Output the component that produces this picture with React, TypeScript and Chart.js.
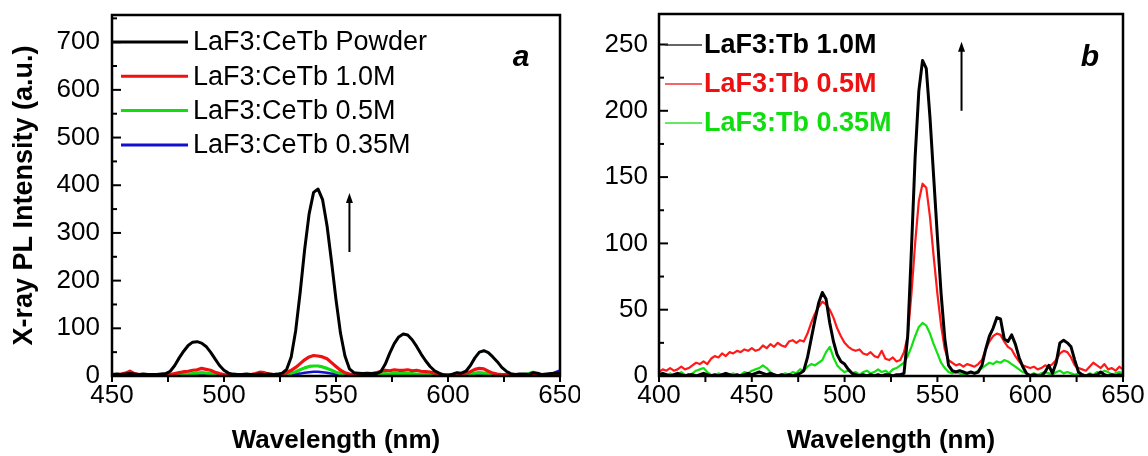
import React, { useEffect, useRef } from "react";
import { Chart, registerables } from "chart.js";

Chart.register(...registerables);

// ---------------- Panel a data ----------------
const waveA = [
  450, 452, 454, 456, 458, 460, 462, 464, 466, 468,
  470, 472, 474, 476, 478, 480, 482, 484, 486, 488,
  490, 492, 494, 496, 498, 500, 502, 504, 506, 508,
  510, 512, 514, 516, 518, 520, 522, 524, 526, 528,
  530, 532, 534, 536, 538, 540, 542, 544, 546, 548,
  550, 552, 554, 556, 558, 560, 562, 564, 566, 568,
  570, 572, 574, 576, 578, 580, 582, 584, 586, 588,
  590, 592, 594, 596, 598, 600, 602, 604, 606, 608,
  610, 612, 614, 616, 618, 620, 622, 624, 626, 628,
  630, 632, 634, 636, 638, 640, 642, 644, 646, 648, 650,
];
const powderA = [
  3, 4, 3, 4, 5, 4, 3, 4, 3, 3,
  3, 4, 5, 10, 22, 38, 52, 64, 71, 72,
  69, 62, 50, 36, 22, 12, 6, 4, 3, 3,
  4, 3, 3, 4, 3, 4, 3, 4, 6, 14,
  40, 95, 175, 265, 340, 385, 392, 370, 315, 240,
  160, 90, 42, 15, 7, 6, 5, 6, 5, 5,
  9, 25, 48, 68, 82, 88, 86, 76, 62, 46,
  32, 20, 11, 6, 2, 0, 4, 7, 6, 10,
  22, 38, 50, 53, 49, 40, 30, 18, 10, 5,
  3, 4, 4, 3, 7, 6, 3, 4, 5, 6, 6,
];
const ceTb10A = [
  2, 3, 4, 6, 10, 5, 3, 2, 2, 2,
  2, 2, 3, 3, 5, 7, 9, 10, 12, 13,
  16, 14, 12, 8, 5, 3, 2, 2, 2, 2,
  3, 3, 5, 8, 7, 4, 3, 3, 4, 7,
  12, 18, 26, 34, 40, 43, 42, 40, 36, 28,
  20, 12, 7, 4, 3, 3, 4, 3, 5, 7,
  10, 12, 11, 13, 12, 12, 13, 11, 12, 10,
  9, 8, 6, 4, 3, 3, 3, 4, 5, 6,
  9, 14, 16, 15, 10, 6, 4, 3, 3, 2,
  2, 2, 2, 2, 2, 2, 2, 2, 2, 2, 2,
];
const ceTb05A = [
  2, 2, 3, 2, 3, 2, 2, 3, 2, 2,
  2, 2, 2, 2, 2, 3, 3, 4, 5, 6,
  7, 6, 5, 3, 2, 2, 2, 2, 1, 1,
  2, 2, 2, 2, 2, 1, 2, 1, 2, 4,
  6, 9, 13, 17, 20, 21, 21, 19, 16, 12,
  8, 5, 3, 2, 2, 1, 1, 2, 2, 3,
  4, 5, 4, 6, 5, 6, 5, 5, 4, 4,
  3, 2, 2, 1, 1, 1, 1, 2, 2, 3,
  4, 6, 7, 6, 4, 3, 2, 2, 1, 1,
  2, 2, 3, 5, 8, 4, 2, 2, 3, 2, 2,
];
const ceTb035A = [
  1, 1, 1, 1, 1, 1, 1, 1, 1, 1,
  1, 1, 1, 1, 1, 1, 1, 1, 2, 2,
  2, 2, 2, 1, 1, 1, 1, 1, 1, 1,
  1, 1, 1, 1, 1, 1, 1, 1, 1, 2,
  3, 4, 5, 7, 8, 9, 9, 8, 7, 5,
  4, 3, 2, 1, 1, 1, 1, 1, 1, 1,
  1, 1, 1, 1, 1, 1, 1, 1, 1, 1,
  1, 1, 1, 1, 1, 1, 1, 1, 1, 1,
  1, 1, 1, 1, 1, 1, 1, 1, 1, 1,
  1, 1, 1, 1, 1, 1, 1, 2, 4, 8, 12,
];
const seriesNamesA = ["LaF3:CeTb Powder", "LaF3:CeTb 1.0M", "LaF3:CeTb 0.5M", "LaF3:CeTb 0.35M"];
const yMajorA = [0, 100, 200, 300, 400, 500, 600, 700];
const yMinorA = [50, 150, 250, 350, 450, 550, 650, 750];
const xMajorA = [450, 500, 550, 600, 650];
const xMinorA = [475, 525, 575, 625];

// ---------------- Panel b data ----------------
const waveB = [
  400, 402, 404, 406, 408, 410, 412, 414, 416, 418,
  420, 422, 424, 426, 428, 430, 432, 434, 436, 438,
  440, 442, 444, 446, 448, 450, 452, 454, 456, 458,
  460, 462, 464, 466, 468, 470, 472, 474, 476, 478,
  480, 482, 484, 486, 488, 490, 492, 494, 496, 498,
  500, 502, 504, 506, 508, 510, 512, 514, 516, 518,
  520, 522, 524, 526, 528, 530, 532, 534, 536, 538,
  540, 542, 544, 546, 548, 550, 552, 554, 556, 558,
  560, 562, 564, 566, 568, 570, 572, 574, 576, 578,
  580, 582, 584, 586, 588, 590, 592, 594, 596, 598,
  600, 602, 604, 606, 608, 610, 612, 614, 616, 618,
  620, 622, 624, 626, 628, 630, 632, 634, 636, 638,
  640, 642, 644, 646, 648, 650,
];
const tb10B = [
  1, 2, 1, 0, 1, 2, 1, 0, 1, 1,
  0, 1, 2, 1, 0, 1, 0, 1, 2, 1,
  0, 1, 0, 1, 2, 1, 2, 3, 2, 1,
  2, 1, 0, 1, 0, 1, 0, 1, 2, 4,
  14, 28, 42, 55, 63, 58, 40, 26, 16, 11,
  9, 5, 2, 1, 0, 1, 0, 1, 0, 1,
  0, 1, 1, 0, 1, 1, 2, 30, 95, 165,
  215, 238, 232, 195, 150, 105, 62, 28, 8, 4,
  3, 4, 3, 2, 3, 2, 3, 8, 20, 30,
  36, 44, 43, 28, 26, 31, 24, 14, 7, 2,
  0, 1, 0, 0, 3, 8, 2, 10, 25, 27,
  25, 22, 12, 3, 1, 0, 1, 0, 1, 3,
  1, 0, 1, 0, 1, 0,
];
const tb05B = [
  3, 5, 4, 6, 4, 5, 7, 5, 6, 8,
  10, 9, 11, 9, 13, 15, 14, 17, 15, 18,
  17, 19, 18, 20, 19, 21, 19, 20, 23, 21,
  24, 22, 25, 23, 22, 26, 27, 25, 27, 26,
  32, 40, 47, 52, 56, 54, 50, 44, 36, 30,
  25, 22, 20, 19, 20, 17, 16, 18, 15, 14,
  19, 13, 12, 14, 11, 12, 18, 30, 62, 100,
  132, 145, 142, 120, 90, 62, 38, 20, 12, 10,
  8, 9, 7, 9, 8, 7, 9, 12, 20, 26,
  30, 32, 31, 26, 22, 20, 15, 11, 8, 7,
  6, 7, 5, 6, 8, 7, 9, 12, 17, 19,
  18, 14, 8, 6, 5, 4, 7, 10, 8, 6,
  9, 5, 6, 4, 7, 5,
];
const tb035B = [
  0, 1, 0, 2, 0, 1, 3, 1, 0, 2,
  4, 5, 6, 3, 1, 0, 2, 1, 0, 1,
  2, 0, 1, 3, 2, 4, 5, 6, 8, 6,
  3, 1, 0, 1, 2, 1, 3, 2, 5, 4,
  7, 9, 8, 10, 12, 18, 22, 14, 8, 5,
  3, 4, 2, 3, 1, 3, 4, 2, 3, 5,
  3, 4, 2, 5, 6, 8, 10, 15, 22, 30,
  37, 40, 38, 32, 24, 17, 10, 6, 3, 2,
  3, 2, 1, 2, 3, 2, 4, 6, 8, 10,
  9, 11, 10, 12, 11, 9, 7, 5, 3, 2,
  1, 2, 1, 2, 3, 2, 1, 3, 4, 2,
  3, 2, 1, 2, 1, 0, 2, 1, 3, 2,
  4, 3, 1, 2, 3, 2,
];
const seriesNamesB = ["LaF3:Tb 1.0M", "LaF3:Tb 0.5M", "LaF3:Tb 0.35M"];
const yMajorB = [0, 50, 100, 150, 200, 250];
const yMinorB = [25, 75, 125, 175, 225];
const xMajorB = [400, 450, 500, 550, 600, 650];
const xMinorB = [425, 475, 525, 575, 625];

const FONT = '"Liberation Sans", Arial, Helvetica, sans-serif';

const decorPlugin = {
  id: "decor",
  afterDatasetsDraw(chart: any, _args: any, o: any) {
    const { ctx, chartArea } = chart;
    const { left, right, top, bottom } = chartArea;
    const xs = chart.scales.x;
    const ys = chart.scales.y;
    const seg = (x1: number, y1: number, x2: number, y2: number) => {
      ctx.beginPath();
      ctx.moveTo(x1, y1);
      ctx.lineTo(x2, y2);
      ctx.stroke();
    };
    ctx.save();
    ctx.strokeStyle = "#000";
    ctx.lineCap = "butt";
    ctx.lineWidth = 2;
    o.yMajor.forEach((v: number) => {
      const p = ys.getPixelForValue(v);
      seg(left, p, left + 9, p);
    });
    o.yMinor.forEach((v: number) => {
      if (v > ys.max) return;
      const p = ys.getPixelForValue(v);
      seg(left, p, left + 5, p);
    });
    o.xMajor.concat(o.xMinor).forEach((v: number) => {
      const p = xs.getPixelForValue(v);
      seg(p, bottom, p, bottom + 6);
    });
    ctx.lineWidth = 2.5;
    ctx.strokeRect(left, top, right - left, bottom - top);

    // arrow
    const ax = xs.getPixelForValue(o.arrow.x);
    const ay0 = ys.getPixelForValue(o.arrow.y0);
    const ay1 = ys.getPixelForValue(o.arrow.y1);
    ctx.lineWidth = 2;
    seg(ax, ay0, ax, ay1 + 6);
    ctx.fillStyle = "#000";
    ctx.beginPath();
    ctx.moveTo(ax, ay1);
    ctx.lineTo(ax - 3.5, ay1 + 10);
    ctx.lineTo(ax + 3.5, ay1 + 10);
    ctx.closePath();
    ctx.fill();

    // legend
    const lg = o.legend;
    chart.data.datasets.forEach((ds: any, i: number) => {
      const y = top + lg.y0 + i * lg.dy;
      ctx.strokeStyle = ds.legendColor || ds.borderColor;
      ctx.lineWidth = lg.lineWidth;
      const sx = i === 0 && lg.xFirst != null ? lg.xFirst : lg.x0;
      seg(left + sx, y, left + lg.x1, y);
      ctx.fillStyle = lg.colored ? ds.textColor : "#000";
      ctx.font = lg.font;
      ctx.textBaseline = "middle";
      ctx.textAlign = "left";
      ctx.fillText(ds.label, left + lg.textX, y + 1);
    });

    // panel letter
    ctx.font = `italic bold 30px ${FONT}`;
    ctx.fillStyle = "#000";
    ctx.textAlign = "center";
    ctx.textBaseline = "alphabetic";
    ctx.fillText(o.letter.text, right - o.letter.dx, top + o.letter.y);
    ctx.restore();
  },
};

function toPoints(xs: number[], ys: number[]) {
  return xs.map((x, i) => ({ x, y: ys[i] }));
}

function makeConfig(p: any) {
  return {
    type: "line",
    data: { datasets: p.datasets },
    plugins: [decorPlugin],
    options: {
      animation: false,
      responsive: false,
      devicePixelRatio: 1,
      layout: { padding: { top: p.padTop, right: p.padRight, left: 0, bottom: 0 } },
      elements: { point: { radius: 0 }, line: { tension: 0, borderJoinStyle: "round" } },
      plugins: {
        legend: { display: false },
        tooltip: { enabled: false },
        decor: p.decor,
      },
      scales: {
        x: {
          type: "linear",
          min: p.xMin,
          max: p.xMax,
          grid: { display: false, drawTicks: false },
          border: { display: false },
          afterBuildTicks: (s: any) => {
            s.ticks = p.xMajor.map((v: number) => ({ value: v }));
          },
          afterFit: (s: any) => {
            s.height = 80;
            s.paddingLeft = 0;
            s.paddingRight = 0;
          },
          ticks: {
            autoSkip: false,
            maxRotation: 0,
            padding: 4,
            color: "#000",
            font: { family: FONT, size: 26 },
          },
          title: {
            display: true,
            text: "Wavelength (nm)",
            color: "#000",
            padding: { top: 0, bottom: 0 },
            font: { family: FONT, size: 26, weight: "bold" },
          },
        },
        y: {
          type: "linear",
          min: 0,
          max: p.yMax,
          grid: { display: false, drawTicks: false },
          border: { display: false },
          afterBuildTicks: (s: any) => {
            s.ticks = p.yMajor.map((v: number) => ({ value: v }));
          },
          afterFit: (s: any) => {
            s.width = p.yWidth;
            s.paddingTop = 0;
            s.paddingBottom = 0;
          },
          ticks: {
            padding: p.yPad,
            color: "#000",
            font: { family: FONT, size: 26 },
          },
          title: {
            display: p.yTitle != null,
            text: p.yTitle || "",
            color: "#000",
            padding: { top: 8, bottom: 0 },
            font: { family: FONT, size: 27, weight: "bold" },
          },
        },
      },
    },
  };
}

const configA = () =>
  makeConfig({
    datasets: [
      { label: seriesNamesA[0], data: toPoints(waveA, powderA), borderColor: "#000000", borderWidth: 3 },
      { label: seriesNamesA[1], data: toPoints(waveA, ceTb10A), borderColor: "#ee1111", borderWidth: 3.2 },
      { label: seriesNamesA[2], data: toPoints(waveA, ceTb05A), borderColor: "#11dd11", borderWidth: 3.2 },
      { label: seriesNamesA[3], data: toPoints(waveA, ceTb035A), borderColor: "#1111cc", borderWidth: 2.5 },
    ],
    padTop: 15,
    padRight: 20,
    xMin: 450,
    xMax: 650,
    xMajor: xMajorA,
    yMax: 757,
    yMajor: yMajorA,
    yWidth: 112,
    yPad: 12,
    yTitle: "X-ray PL Intensity (a.u.)",
    decor: {
      yMajor: yMajorA,
      yMinor: yMinorA,
      xMajor: xMajorA,
      xMinor: xMinorA,
      arrow: { x: 556, y0: 260, y1: 384 },
      legend: { x0: 9, xFirst: 1, x1: 76, textX: 81, y0: 27, dy: 34.3, lineWidth: 3, colored: false, font: `27px ${FONT}` },
      letter: { text: "a", dx: 39, y: 51 },
    },
  });

const configB = () =>
  makeConfig({
    datasets: [
      { label: seriesNamesB[0], data: toPoints(waveB, tb10B), borderColor: "#000000", borderWidth: 3, legendColor: "#333333", textColor: "#000000" },
      { label: seriesNamesB[1], data: toPoints(waveB, tb05B), borderColor: "#ff1a1a", borderWidth: 2.2, legendColor: "#ee3333", textColor: "#ee1111" },
      { label: seriesNamesB[2], data: toPoints(waveB, tb035B), borderColor: "#11e011", borderWidth: 2.2, legendColor: "#33e033", textColor: "#11dd11" },
    ],
    padTop: 14,
    padRight: 25,
    xMin: 400,
    xMax: 650,
    xMajor: xMajorB,
    yMax: 273,
    yMajor: yMajorB,
    yWidth: 79,
    yPad: 11,
    yTitle: null,
    decor: {
      yMajor: yMajorB,
      yMinor: yMinorB,
      xMajor: xMajorB,
      xMinor: xMinorB,
      arrow: { x: 563, y0: 200, y1: 252 },
      legend: { x0: 6, x1: 43, textX: 45, y0: 31, dy: 39, lineWidth: 1.5, colored: true, font: `bold 27px ${FONT}` },
      letter: { text: "b", dx: 33, y: 52 },
    },
  });

function ChartCanvas({ width, height, build }: { width: number; height: number; build: () => any }) {
  const ref = useRef<HTMLCanvasElement | null>(null);
  useEffect(() => {
    if (!ref.current) return;
    const chart = new Chart(ref.current, build());
    return () => chart.destroy();
  }, [build]);
  return <canvas ref={ref} width={width} height={height} style={{ width, height, display: "block" }} />;
}

export default function App() {
  return (
    <div
      style={{
        position: "absolute",
        left: 0,
        top: 0,
        width: 1148,
        height: 456,
        background: "#fff",
        display: "flex",
        flexDirection: "row",
      }}
    >
      <ChartCanvas width={580} height={456} build={configA} />
      <ChartCanvas width={568} height={456} build={configB} />
    </div>
  );
}
